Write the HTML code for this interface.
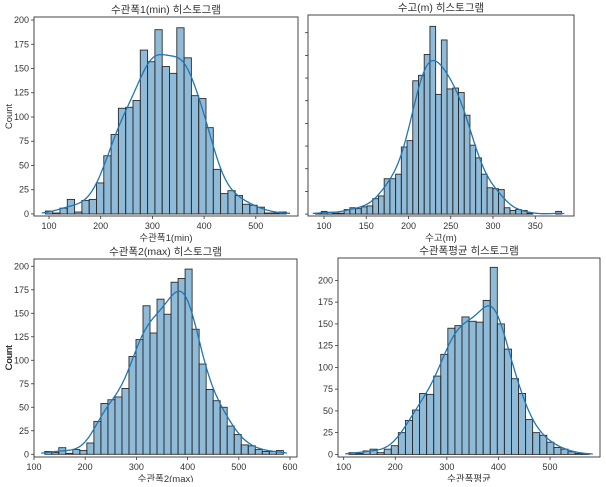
<!DOCTYPE html>
<html><head><meta charset="utf-8">
<style>
body{margin:0;background:#fff;}
svg text{font-family:"Liberation Sans","Noto Sans CJK KR",sans-serif;fill:#333;}
</style></head>
<body>
<svg id="fig" width="606" height="482" viewBox="0 0 606 482" xmlns="http://www.w3.org/2000/svg"></svg>
<script>
// Panel 1: 수관폭1(min)
const counts1 = [3,1,6,15,2,14,15,32,60,82,109,110,117,169,157,190,152,145,192,161,122,119,89,46,21,24,19,10,9,7,1,1,2];
const range1 = [93,559];
const xticks1 = [100,200,300,400,500];
const yticks1 = [0,25,50,75,100,125,150,175,200];
// Panel 2: 수고(m)
const counts2 = [1,3,2,1,1,5,7,6,8,9,17,20,39,39,44,74,81,147,153,176,207,132,192,138,139,134,109,76,62,44,29,28,27,7,4,5,4,1,0,0,0,0,3];
const range2 = [90,381];
const xticks2 = [100,150,200,250,300,350];
const yticks2 = [0,25,50,75,100,125,150,175,200];
// Panel 3: 수관폭2(max)
const counts3 = [3,2,7,1,5,4,12,35,54,58,61,70,104,122,158,129,165,149,183,187,197,133,96,69,57,50,30,21,10,9,5,3,3,4];
const range3 = [121,587];
const xticks3 = [100,200,300,400,500,600];
const yticks3 = [0,25,50,75,100,125,150,175,200];
// Panel 4: 수관폭평균
const counts4 = [2,1,4,6,2,6,10,25,39,51,70,69,90,115,145,148,158,153,152,177,215,150,121,87,70,40,25,22,14,8,6,3,1,1];
const range4 = [110,576];
const xticks4 = [100,200,300,400,500];
const yticks4 = [0,25,50,75,100,125,150,175,200];

const svg = document.getElementById('fig');
const NS = 'http://www.w3.org/2000/svg';
function mk(tag, attrs, parent){
  const e = document.createElementNS(NS, tag);
  for (const k in attrs) e.setAttribute(k, attrs[k]);
  (parent||svg).appendChild(e);
  return e;
}

function panel(cfg){
  const g = mk('g', {});
  
  
  const {L,R,T,B,xmin,xmax,ymin,ymax} = cfg;
  const sx = v => L + (v - xmin) / (xmax - xmin) * (R - L);
  const sy = v => B - (v - ymin) / (ymax - ymin) * (B - T);
  const n = cfg.counts.length;
  const w = (cfg.range[1] - cfg.range[0]) / n;
  cfg.counts.forEach((c, i) => {
    const x0 = sx(cfg.range[0] + i*w), x1 = sx(cfg.range[0] + (i+1)*w);
    const r = mk('rect', {x:x0, y:sy(c), width:x1-x0, height:sy(0)-sy(c), fill:'rgba(31,119,180,0.5)', stroke:'#2b2b2b', 'stroke-width':0.9}, g);
    
    
  });
  const sig = cfg.sig || 1.5;
  let d = '';
  const steps = 200;
  for (let s = 0; s <= steps; s++){
    const pos = -0.5 + s/steps * (n+1);
    let sum = 0, total = 0;
    for (let j = 0; j < n; j++){
      sum += Math.exp(-0.5*Math.pow((pos - (j+0.5))/sig, 2)) * cfg.counts[j];
    }
    for (let j=-30;j<n+30;j++){ total += Math.exp(-0.5*Math.pow((pos-(j+0.5))/sig,2)); }
    const val = sum / total;
    const xv = cfg.range[0] + pos*w;
    d += (s ? 'L' : 'M') + sx(xv).toFixed(1) + ',' + sy(val).toFixed(1);
  }
  const kde = mk('path', {d:d, fill:'none', stroke:'#1f77b4', 'stroke-width':1.3}, g);
  
  
  const frame = mk('rect', {x:L, y:T, width:R-L, height:B-T, fill:'none', stroke:'#333', 'stroke-width':0.9}, g);
  
  
  cfg.xticks.forEach(v => {
    mk('line', {x1:sx(v), x2:sx(v), y1:B, y2:B+3, stroke:'#333', 'stroke-width':0.8}, g);
    const t = mk('text', {x:sx(v), y:B+13, 'font-size':9, 'text-anchor':'middle'}, g);
    t.textContent = v;
    
    
  });
  cfg.yticks.forEach(v => {
    mk('line', {x1:L-3, x2:L, y1:sy(v), y2:sy(v), stroke:'#333', 'stroke-width':0.8}, g);
    if (cfg.ylabels){
      const t = mk('text', {x:L-5, y:sy(v)+3, 'font-size':9, 'text-anchor':'end'}, g);
      t.textContent = v;
      
      
    }
  });
  const tt = mk('text', {x:(L+R)/2, y:T-4, 'font-size':10.5, 'text-anchor':'middle'}, g);
  tt.textContent = cfg.title;
  
  
  const xl = mk('text', {x:(L+R)/2, y:B+25, 'font-size':9.5, 'text-anchor':'middle'}, g);
  xl.textContent = cfg.xlabel;
  
  
  if (cfg.ylabels){
    const cy = (T+B)/2;
    const yl = mk('text', {x:0, y:0, 'font-size':9.5, 'font-weight':'normal', 'text-anchor':'middle', transform:'translate(12 '+cy+') rotate(-90)'}, g);
    yl.textContent = 'Count';
    
    
  }
}

panel({name:'panel-min', counts:counts1, range:range1, xticks:xticks1, yticks:yticks1, L:34,R:298,T:17,B:216, xmin:(34-49)/0.5170+100, xmax:(298-49)/0.5170+100, ymin:-2.1, ymax:203.1, title:'수관폭1(min) 히스토그램', xlabel:'수관폭1(min)', ylabels:true, sig:1.5});
panel({name:'panel-height', counts:counts2, range:range2, xticks:xticks2, yticks:yticks2, L:308,R:574,T:15,B:216, xmin:100-(324-308)/0.845, xmax:100+(574-324)/0.845, ymin:-2.1, ymax:-2.1+(216-15)/0.907, title:'수고(m) 히스토그램', xlabel:'수고(m)', ylabels:false, sig:1.6});
panel({name:'panel-max', counts:counts3, range:range3, xticks:xticks3, yticks:yticks3, L:34,R:297,T:259,B:457, xmin:100, xmax:100+(297-34)/0.512, ymin:-2.9, ymax:-2.9+(457-259)/0.94, title:'수관폭2(max) 히스토그램', xlabel:'수관폭2(max)', ylabels:true, sig:1.5});
panel({name:'panel-mean', counts:counts4, range:range4, xticks:xticks4, yticks:yticks4, L:338,R:600,T:258,B:457, xmin:100-(343.7-338)/0.5158, xmax:100+(600-343.7)/0.5158, ymin:-3, ymax:-3+(457-258)/0.87, title:'수관폭평균 히스토그램', xlabel:'수관폭평균', ylabels:true, sig:1.5});
</script>
</body></html>
